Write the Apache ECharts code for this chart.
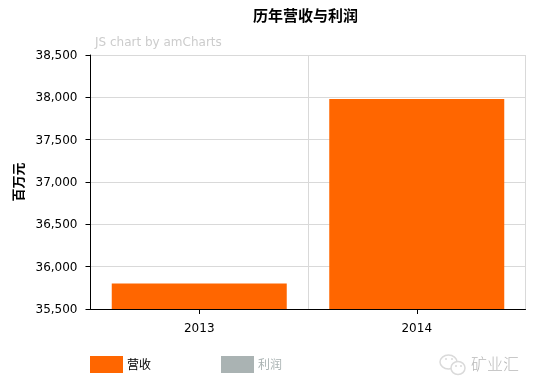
<!DOCTYPE html>
<html>
<head>
<meta charset="utf-8">
<style>
  html, body { margin: 0; padding: 0; background: #fff; }
  #main { width: 539px; height: 389px; }
</style>
<script src="https://cdn.jsdelivr.net/npm/echarts@6/dist/echarts.min.js"></script>
</head>
<body>
<div id="main"></div>
<script>
var years = ['2013', '2014'];
var revenue = [35800, 37980];
// 利润 is switched off in the legend, so no bars are visible to read
var profit = [null, null];
var axisTicks = { min: 35500, max: 38500, interval: 500 };

var font = '"DejaVu Sans", sans-serif';
var cjk = '"Noto Sans CJK SC", sans-serif';
var markGrey = '#dadada';

var chart = echarts.init(document.getElementById('main'));
chart.setOption({
  animation: false,
  backgroundColor: '#fff',
  title: {
    text: '历年营收与利润',
    left: 253,
    top: 8,
    padding: 0,
    textStyle: { fontFamily: cjk, fontSize: 15, fontWeight: 'bold', color: '#000' }
  },
  legend: {
    left: 90,
    top: 356,
    padding: 0,
    itemWidth: 33,
    itemHeight: 17,
    itemGap: 70,
    icon: 'rect',
    data: ['营收', '利润'],
    selected: { '营收': true, '利润': false },
    inactiveColor: '#aab3b3',
    textStyle: { fontFamily: cjk, fontSize: 12, color: '#000', padding: [2, 0, 0, -1] }
  },
  grid: { left: 90.5, right: 13.5, top: 55, bottom: 80 },
  xAxis: {
    type: 'category',
    data: years,
    axisLine: { lineStyle: { color: '#000' } },
    axisTick: { show: true, alignWithLabel: true, length: 5, lineStyle: { color: '#000' } },
    axisLabel: { fontFamily: font, fontSize: 12, color: '#000', margin: 14 },
    splitLine: { show: true, lineStyle: { color: '#d9d9d9' } }
  },
  yAxis: {
    type: 'value',
    min: axisTicks.min,
    max: axisTicks.max,
    interval: axisTicks.interval,
    name: '百万元',
    nameLocation: 'middle',
    nameGap: 66,
    nameTextStyle: { fontFamily: cjk, fontSize: 13, fontWeight: 'bold', color: '#000' },
    axisLine: { show: true, lineStyle: { color: '#000' } },
    axisTick: { show: true, length: 5, lineStyle: { color: '#000' } },
    axisLabel: {
      fontFamily: font, fontSize: 12, color: '#000', margin: 13,
      verticalAlign: 'top', padding: [-5, 0, 0, 0],
      formatter: function (v) { return v.toLocaleString('en-US'); }
    },
    splitLine: { show: true, lineStyle: { color: '#d9d9d9' } }
  },
  series: [
    {
      name: '营收', type: 'bar', data: revenue, barWidth: 175, barGap: '-100%',
      itemStyle: { color: '#ff6600' }
    },
    {
      name: '利润', type: 'bar', data: profit, barWidth: 175,
      itemStyle: { color: '#aab3b3' }
    }
  ],
  graphic: [
    {
      type: 'text', left: 95, top: 37,
      style: { text: 'JS chart by amCharts', fontFamily: font, fontSize: 12, fill: '#cccccc' }
    },
    {
      type: 'rect',
      shape: { x: 525, y: 55, width: 1, height: 254 },
      style: { fill: '#d9d9d9' }
    },
    // wechat style mark bottom right
    {
      type: 'ellipse',
      shape: { cx: 448.5, cy: 362, rx: 8.5, ry: 7 },
      style: { fill: 'none', stroke: markGrey, lineWidth: 1.5 }
    },
    {
      type: 'ellipse',
      shape: { cx: 458, cy: 368, rx: 7, ry: 6.5 },
      style: { fill: '#fff', stroke: markGrey, lineWidth: 1.5 }
    },
    { type: 'circle', shape: { cx: 446, cy: 359, r: 1 }, style: { fill: markGrey } },
    { type: 'circle', shape: { cx: 452, cy: 359, r: 1 }, style: { fill: markGrey } },
    { type: 'circle', shape: { cx: 456, cy: 366, r: 1 }, style: { fill: markGrey } },
    { type: 'circle', shape: { cx: 461, cy: 366, r: 1 }, style: { fill: markGrey } },
    {
      type: 'text', left: 471, top: 356,
      style: { text: '矿业汇', fontFamily: cjk, fontSize: 16, fontWeight: 300, fill: '#b8b8b8' }
    }
  ]
});
</script>
</body>
</html>
